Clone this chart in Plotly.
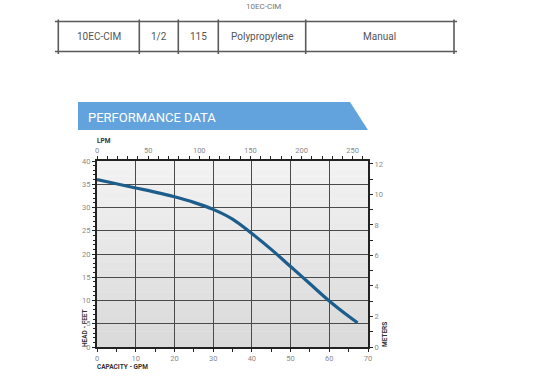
import plotly.graph_objects as go

# ---- data ----
gpm = [0, 5, 10, 15, 20, 25, 30, 35, 40, 45, 50, 55, 60, 65, 67.3]
head_ft = [36, 35.1, 34.2, 33.3, 32.3, 31.1, 29.6, 27.5, 24.4, 21.0, 17.3, 13.6, 9.9, 6.6, 5.2]

gpm_ticks = [0, 10, 20, 30, 40, 50, 60, 70]
ft_ticks = [0, 5, 10, 15, 20, 25, 30, 35, 40]
lpm_ticks = [0, 50, 100, 150, 200, 250]
m_ticks = [0, 2, 4, 6, 8, 10, 12]

table_cells = ["10EC-CIM", "1/2", "115", "Polypropylene", "Manual"]
table_cols = [58.3, 139.3, 178.3, 218.3, 305.7, 454]

# ---- geometry (pixels) ----
W, H = 537, 387
PL, PR, PT, PB = 97, 368, 161, 347


def px(x):
    return (x - PL) / (PR - PL)


def py(y):
    return (PB - y) / (PB - PT)


FONT = "Roboto, Liberation Sans, sans-serif"
GRID = "#4a4a4a"
AX = "#222222"
TICKF = dict(family=FONT, size=7.5, color="#8a8a8a")

fig = go.Figure()
fig.add_trace(go.Scatter(x=gpm, y=head_ft, mode="lines",
                         line=dict(color="#1d5d8c", width=3.2, shape="spline", smoothing=1.0),
                         hoverinfo="skip", showlegend=False))
# invisible trace to bind secondary axes
fig.add_trace(go.Scatter(x=[lpm_ticks[0]], y=[m_ticks[0]], xaxis="x2", yaxis="y2",
                         mode="markers", marker=dict(opacity=0), showlegend=False, hoverinfo="skip"))

shapes = []
# gradient background inside plot
n = 24
for i in range(n):
    t = i / (n - 1)
    c = int(round(0xf2 - (0xf2 - 0xda) * (1 - t)))
    col = f"rgb({c},{c},{c})"
    shapes.append(dict(type="rect", xref="x domain", yref="y domain", x0=0, x1=1,
                       y0=i / n, y1=(i + 1) / n + 0.002, fillcolor=col, line=dict(width=0), layer="below"))

# banner
bx0, bx1, bx2, by0, by1 = 78, 350, 368, 102, 130
shapes.append(dict(type="path", xref="paper", yref="paper",
                   path=f"M {px(bx0)},{py(by0)} L {px(bx1)},{py(by0)} L {px(bx2)},{py(by1)} L {px(bx0)},{py(by1)} Z",
                   fillcolor="#62a3dd", line=dict(width=0)))

# table lines
tcol = "#5a5a5a"
for yy in (21.5, 51.5):
    shapes.append(dict(type="line", xref="paper", yref="paper", x0=px(55), x1=px(457),
                       y0=py(yy), y1=py(yy), line=dict(color=tcol, width=1.6)))
for xx in table_cols:
    shapes.append(dict(type="line", xref="paper", yref="paper", x0=px(xx), x1=px(xx),
                       y0=py(19.5), y1=py(54), line=dict(color=tcol, width=1.6)))

annotations = []
for i, txt in enumerate(table_cells):
    cx = (table_cols[i] + table_cols[i + 1]) / 2
    annotations.append(dict(text=txt, xref="paper", yref="paper", x=px(cx), y=py(37),
                            showarrow=False, xanchor="center", yanchor="middle",
                            font=dict(family=FONT, size=10, color="#555555")))
annotations.append(dict(text="10EC-CIM", xref="paper", yref="paper", x=px(263), y=py(0.5),
                        showarrow=False, xanchor="center", yanchor="top", borderpad=0,
                        font=dict(family=FONT, size=8, color="#777777")))
annotations.append(dict(text="PERFORMANCE DATA", xref="paper", yref="paper", x=px(86), y=py(117),
                        showarrow=False, xanchor="left", yanchor="middle",
                        font=dict(family=FONT, size=13, color="white")))
lab = dict(family=FONT, size=6.5, color="#333333")
annotations.append(dict(text="<b>LPM</b>", xref="paper", yref="paper", x=px(95), y=py(141),
                        showarrow=False, xanchor="left", yanchor="middle", font=lab))
annotations.append(dict(text="<b>CAPACITY - GPM</b>", xref="paper", yref="paper", x=px(95), y=py(367),
                        showarrow=False, xanchor="left", yanchor="middle", font=lab))
annotations.append(dict(text="<b>HEAD - FEET</b>", xref="paper", yref="paper", x=px(85), y=py(328),
                        showarrow=False, textangle=-90, xanchor="center", yanchor="middle", font=lab))
annotations.append(dict(text="<b>METERS</b>", xref="paper", yref="paper", x=px(385), y=py(335),
                        showarrow=False, textangle=-90, xanchor="center", yanchor="middle", font=lab))

fig.update_layout(
    width=W, height=H,
    margin=dict(l=PL, r=W - PR, t=PT, b=H - PB, pad=0),
    paper_bgcolor="white", plot_bgcolor="rgba(0,0,0,0)",
    showlegend=False,
    shapes=shapes, annotations=annotations,
    xaxis=dict(range=[0, 70], tickvals=gpm_ticks, showgrid=True, gridcolor=GRID, gridwidth=1.4,
               showline=True, linecolor=AX, linewidth=2, ticks="outside", ticklen=3, tickcolor=AX,
               tickfont=TICKF, zeroline=False, fixedrange=True,
               minor=dict(dtick=5, ticks="outside", ticklen=3, tickcolor=AX, showgrid=False)),
    yaxis=dict(range=[0, 40], tickvals=ft_ticks, showgrid=True, gridcolor=GRID, gridwidth=1.4,
               showline=True, linecolor=AX, linewidth=2, ticks="outside", ticklen=3, tickcolor=AX,
               tickfont=TICKF, zeroline=False, fixedrange=True,
               minor=dict(dtick=1, ticks="outside", ticklen=2, tickcolor=AX, showgrid=False)),
    xaxis2=dict(range=[0, 70 * 3.78541], overlaying="x", side="top", tickvals=lpm_ticks,
                showgrid=False, showline=True, linecolor=AX, linewidth=2, ticks="outside",
                ticklen=3, tickcolor=AX, tickfont=TICKF, zeroline=False, fixedrange=True,
                minor=dict(dtick=10, ticks="outside", ticklen=3, tickcolor=AX)),
    yaxis2=dict(range=[0, 40 * 0.3048], overlaying="y", side="right", tickvals=m_ticks,
                showgrid=False, showline=True, linecolor=AX, linewidth=2, ticks="outside",
                ticklen=3, tickcolor=AX, tickfont=TICKF, zeroline=False, fixedrange=True,
                minor=dict(dtick=1, ticks="outside", ticklen=3, tickcolor=AX)),
)

fig.write_html("out.html", config={"displayModeBar": False},
               post_script="document.body.style.margin='0';document.body.style.overflow='hidden';")
